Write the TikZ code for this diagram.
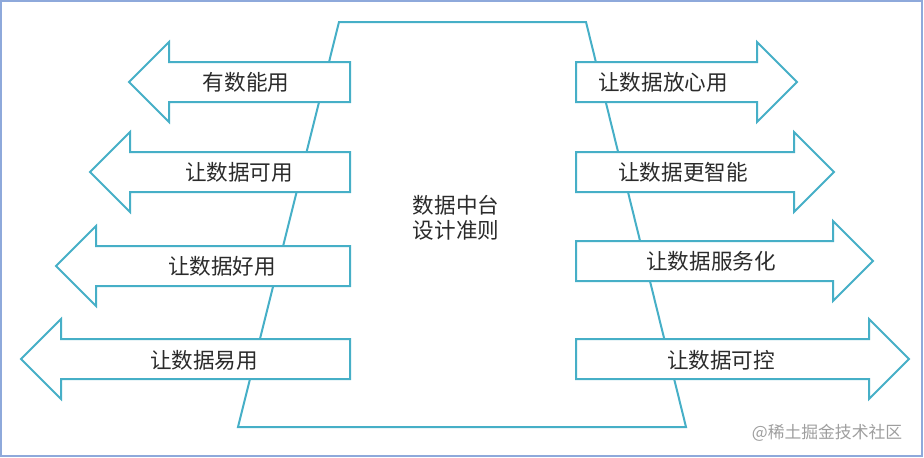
\documentclass[tikz,border=0pt]{standalone}
\usepackage{fontspec}
\setmainfont{Noto Sans CJK SC}
\usepackage{tikz}
\usetikzlibrary{positioning}

\definecolor{linecol}{HTML}{46AFC7}
\definecolor{framecol}{HTML}{8EA9DB}
\definecolor{textcol}{HTML}{2B2B2B}

\begin{document}
\begin{tikzpicture}[
  x=0.5pt, y=-0.5pt,
  font=\fontsize{10.8pt}{12.6pt}\selectfont,
  outline/.style={draw=linecol, line width=1pt, line join=miter},
  arrowbox/.style={outline, fill=white},
  lbl/.style={text=textcol, inner sep=0pt, align=center},
  wmark/.style={text=black!38, inner sep=0pt, font=\fontsize{8.4pt}{9pt}\selectfont}
]
\useasboundingbox (0,0) rectangle (924,457);
\draw[framecol, line width=1.2pt] (1,1) rectangle (922,456);

% central trapezoid
\draw[outline] (339,22) -- (586,22) -- (686,427) -- (238,427) -- cycle;

% arrows to the left
\draw[arrowbox] (350,62) -- (169,62) -- (169,42) -- (129,82) -- (169,122) -- (169,102) -- (350,102) -- cycle;
\draw[arrowbox] (350,152) -- (130,152) -- (130,132) -- (90,172) -- (130,212) -- (130,192) -- (350,192) -- cycle;
\draw[arrowbox] (350,246) -- (96,246) -- (96,226) -- (56,266) -- (96,306) -- (96,286) -- (350,286) -- cycle;
\draw[arrowbox] (350,339) -- (61,339) -- (61,319) -- (21,359) -- (61,399) -- (61,379) -- (350,379) -- cycle;

% arrows to the right
\draw[arrowbox] (576,62) -- (757,62) -- (757,42) -- (797,82) -- (757,122) -- (757,102) -- (576,102) -- cycle;
\draw[arrowbox] (576,152) -- (794,152) -- (794,132) -- (834,172) -- (794,212) -- (794,192) -- (576,192) -- cycle;
\draw[arrowbox] (576,241) -- (833,241) -- (833,221) -- (873,261) -- (833,301) -- (833,281) -- (576,281) -- cycle;
\draw[arrowbox] (576,339) -- (869,339) -- (869,319) -- (909,359) -- (869,399) -- (869,379) -- (576,379) -- cycle;

\node[lbl] (core) at (456,218) {数据中台\\设计准则};

\node[lbl] (l1) at (246,82) {有数能用};
\node[lbl] (l2) at (239,172) {让数据可用};
\node[lbl] (l3) at (222,266) {让数据好用};
\node[lbl] (l4) at (204,360) {让数据易用};

\node[lbl] (r1) at (663,82) {让数据放心用};
\node[lbl] (r2) at (683,172) {让数据更智能};
\node[lbl] (r3) at (711,261) {让数据服务化};
\node[lbl] (r4) at (721,360) {让数据可控};

\node[wmark] (wm) at (827,433) {@稀土掘金技术社区};
\end{tikzpicture}
\end{document}
